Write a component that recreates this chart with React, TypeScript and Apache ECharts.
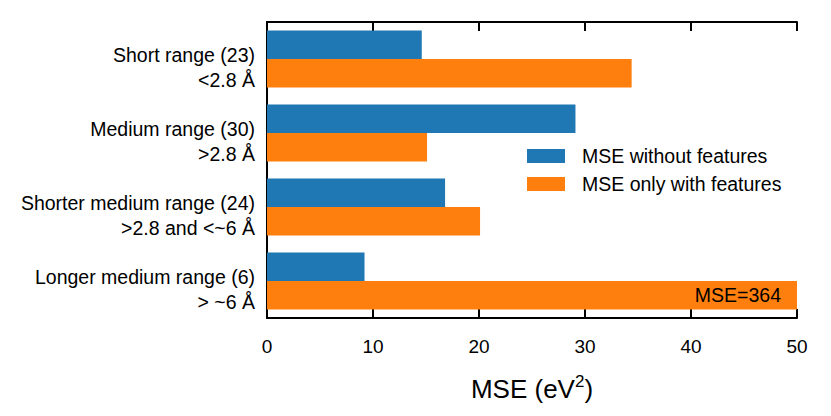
import React, { useEffect, useRef } from "react";
import * as echarts from "echarts";

const categories = [
  "Short range (23)\n<2.8 Å",
  "Medium range (30)\n>2.8 Å",
  "Shorter medium range (24)\n>2.8 and <~6 Å",
  "Longer medium range (6)\n> ~6 Å",
];
const mseWithout = [14.6, 29.1, 16.8, 9.2];
const mseOnlyWith = [34.4, 15.1, 20.1, 364];
const xTicks = [0, 10, 20, 30, 40, 50];

const FONT = "Liberation Sans, Arial, sans-serif";

export default function App() {
  const ref = useRef<HTMLDivElement>(null);
  useEffect(() => {
    document.body.style.margin = "0";
    if (!ref.current) return;
    const chart = echarts.init(ref.current, undefined, { renderer: "svg" });
    const axisLine = { show: true, lineStyle: { color: "#000", width: 2 } };
    const labelTok = { fontSize: 19.5, color: "#000", fontFamily: FONT, align: "right" };
    chart.setOption({
      animation: false,
      textStyle: { fontFamily: FONT },
      grid: { left: 267, right: 34, top: 22, bottom: 98, containLabel: false },
      legend: {
        data: ["MSE without features", "MSE only with features"],
        orient: "vertical",
        left: 527,
        top: 146,
        padding: 0,
        itemWidth: 38,
        itemHeight: 14,
        itemGap: 8,
        icon: "rect",
        textStyle: { fontSize: 19.5, color: "#000", fontFamily: FONT, padding: [0, 0, 0, 12] },
      },
      xAxis: [
        {
          type: "value",
          min: xTicks[0],
          max: xTicks[xTicks.length - 1],
          interval: 10,
          position: "bottom",
          axisLine,
          axisTick: { show: true, inside: true, length: 9, lineStyle: { color: "#000", width: 2 } },
          axisLabel: { fontSize: 19, color: "#000", margin: 19, fontFamily: FONT },
          splitLine: { show: false },
          name: "MSE (eV{sup|2})",
          nameLocation: "middle",
          nameGap: 55,
          nameTextStyle: {
            fontSize: 26,
            color: "#000",
            fontFamily: FONT,
            rich: { sup: { fontSize: 17, verticalAlign: "top", padding: [0, 0, 14, 0], color: "#000" } },
          },
        },
        {
          type: "value",
          min: xTicks[0],
          max: xTicks[xTicks.length - 1],
          interval: 10,
          position: "top",
          axisLine,
          axisTick: { show: true, inside: true, length: 9, lineStyle: { color: "#000", width: 2 } },
          axisLabel: { show: false },
          splitLine: { show: false },
        },
      ],
      yAxis: [
        {
          type: "category",
          data: categories,
          inverse: true,
          position: "left",
          axisLine,
          axisTick: { show: true, inside: true, length: 9, alignWithLabel: true, lineStyle: { color: "#000", width: 2 } },
          axisLabel: {
            interval: 0,
            hideOverlap: false,
            margin: 12,
            align: "right",
            fontSize: 19.5,
            color: "#000",
            fontFamily: FONT,
            formatter: (v: string) => {
              const [l1, l2] = v.split("\n");
              return "{t|" + l1 + "}\n{a|" + l2 + "}";
            },
            rich: {
              t: { ...labelTok, lineHeight: 42 },
              a: { ...labelTok, lineHeight: 8 },
            },
          },
        },
        {
          type: "category",
          data: categories,
          inverse: true,
          position: "right",
          axisLine,
          axisTick: { show: false },
          axisLabel: { show: false },
        },
      ],
      series: [
        {
          name: "MSE without features",
          type: "bar",
          data: mseWithout,
          itemStyle: { color: "#1f77b4" },
          barGap: "0%",
          barCategoryGap: "23%",
        },
        {
          name: "MSE only with features",
          type: "bar",
          data: mseOnlyWith.map((v) =>
            v > 50
              ? {
                  value: v,
                  label: {
                    show: true,
                    position: "insideRight",
                    distance: 16,
                    formatter: "MSE=" + v,
                    fontSize: 19.5,
                    color: "#000",
                    fontFamily: FONT,
                  },
                }
              : v
          ),
          itemStyle: { color: "#ff7f0e" },
          barGap: "0%",
          barCategoryGap: "23%",
        },
      ],
    });
    return () => chart.dispose();
  }, []);
  return <div ref={ref} style={{ width: 831, height: 416 }} />;
}
